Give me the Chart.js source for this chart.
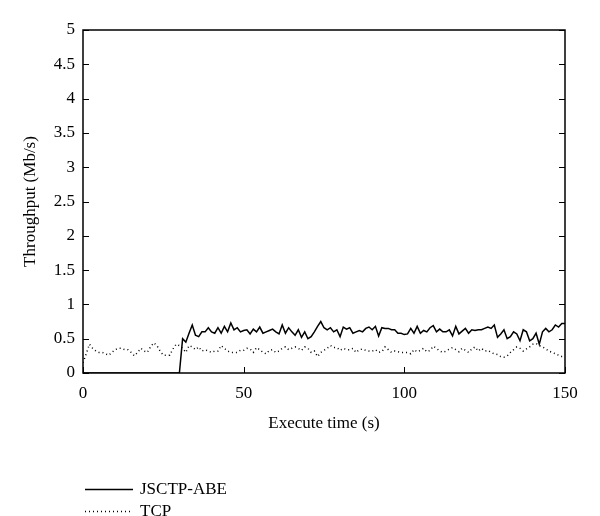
<!DOCTYPE html>
<html>
<head>
<meta charset="utf-8">
<script src="https://cdn.jsdelivr.net/npm/chart.js@4"></script>
<style>
  html, body { margin: 0; padding: 0; background: #fff; }
  #wrap { width: 600px; height: 516px; }
</style>
</head>
<body>
<div id="wrap"><canvas id="chart" width="600" height="516"></canvas></div>
<script>
// Dados (um ponto por segundo, 0..150 s)
const seriesNames = ['JSCTP-ABE', 'TCP'];
const xTicks = [0, 50, 100, 150];
const yTicks = [0, 0.5, 1, 1.5, 2, 2.5, 3, 3.5, 4, 4.5, 5];

const jsctpValues = [
  0, 0, 0, 0, 0, 0, 0, 0, 0, 0,
  0, 0, 0, 0, 0, 0, 0, 0, 0, 0,
  0, 0, 0, 0, 0, 0, 0, 0, 0, 0,
  0, 0.5, 0.45, 0.58, 0.7, 0.55, 0.53, 0.6, 0.6, 0.66,
  0.6, 0.58, 0.66, 0.58, 0.68, 0.6, 0.73, 0.63, 0.66, 0.6,
  0.62, 0.63, 0.57, 0.64, 0.6, 0.67, 0.58, 0.6, 0.62, 0.64,
  0.6, 0.57, 0.7, 0.58, 0.66, 0.6, 0.55, 0.63, 0.52, 0.6,
  0.5, 0.53, 0.6, 0.68, 0.75, 0.66, 0.63, 0.66, 0.6, 0.63,
  0.53, 0.67, 0.64, 0.66, 0.58, 0.6, 0.62, 0.6, 0.65, 0.67,
  0.63, 0.68, 0.54, 0.66, 0.65, 0.65, 0.63, 0.63, 0.58, 0.58,
  0.56, 0.57, 0.65, 0.58, 0.68, 0.58, 0.62, 0.6, 0.66, 0.69,
  0.6, 0.64, 0.6, 0.6, 0.63, 0.54, 0.68, 0.57, 0.61, 0.65,
  0.58, 0.63, 0.62, 0.63, 0.63, 0.65, 0.67, 0.65, 0.7, 0.52,
  0.57, 0.63, 0.5, 0.53, 0.6, 0.57, 0.47, 0.63, 0.6, 0.47,
  0.5, 0.58, 0.42, 0.6, 0.65, 0.6, 0.63, 0.7, 0.67, 0.72,
  0.72
];

const tcpValues = [
  0.15, 0.28, 0.42, 0.36, 0.32, 0.3, 0.3, 0.28, 0.26, 0.3,
  0.34, 0.36, 0.36, 0.34, 0.34, 0.3, 0.25, 0.3, 0.36, 0.32,
  0.3, 0.38, 0.44, 0.4, 0.32, 0.26, 0.26, 0.26, 0.35, 0.42,
  0.4, 0.36, 0.3, 0.4, 0.38, 0.34, 0.38, 0.32, 0.34, 0.32,
  0.3, 0.32, 0.32, 0.4, 0.36, 0.32, 0.3, 0.3, 0.3, 0.33,
  0.33, 0.36, 0.35, 0.3, 0.37, 0.34, 0.3, 0.28, 0.33, 0.34,
  0.3, 0.32, 0.36, 0.38, 0.34, 0.36, 0.38, 0.36, 0.33, 0.38,
  0.36, 0.3, 0.32, 0.24, 0.3, 0.33, 0.36, 0.4, 0.37, 0.37,
  0.33, 0.36, 0.34, 0.34, 0.36, 0.3, 0.34, 0.35, 0.33, 0.32,
  0.32, 0.34, 0.3, 0.31, 0.38, 0.34, 0.3, 0.32, 0.31, 0.3,
  0.3, 0.3, 0.28, 0.34, 0.31, 0.33, 0.36, 0.31, 0.33, 0.39,
  0.36, 0.32, 0.3, 0.32, 0.35, 0.37, 0.34, 0.31, 0.36, 0.33,
  0.3, 0.35, 0.38, 0.32, 0.36, 0.32, 0.33, 0.3, 0.28, 0.27,
  0.24, 0.23, 0.25, 0.3, 0.34, 0.38, 0.36, 0.32, 0.35, 0.38,
  0.42, 0.43, 0.4, 0.38, 0.35, 0.32, 0.3, 0.28, 0.26, 0.24,
  0.24
];

const FONT = '"Liberation Serif", "DejaVu Serif", serif';

function toPoints(values) {
  return values.map((v, i) => ({ x: i, y: v }));
}

// Moldura e marcas de escala para dentro
const framePlugin = {
  id: 'frame',
  afterDraw(chart) {
    const ctx = chart.ctx;
    const a = chart.chartArea;
    const xs = chart.scales.x;
    const ys = chart.scales.y;
    ctx.save();
    ctx.strokeStyle = '#000';
    ctx.lineWidth = 1.5;
    ctx.strokeRect(a.left, a.top, a.right - a.left, a.bottom - a.top);
    ctx.lineWidth = 1;
    ctx.beginPath();
    yTicks.forEach(v => {
      const py = Math.round(ys.getPixelForValue(v)) + 0.5;
      ctx.moveTo(a.left, py);
      ctx.lineTo(a.left + 6, py);
      ctx.moveTo(a.right, py);
      ctx.lineTo(a.right - 6, py);
    });
    xTicks.forEach(v => {
      const px = Math.round(xs.getPixelForValue(v)) + 0.5;
      ctx.moveTo(px, a.bottom);
      ctx.lineTo(px, a.bottom - 6);
    });
    ctx.stroke();

    // Legenda abaixo do gráfico
    const rows = [489, 511];
    chart.data.datasets.forEach((ds, i) => {
      const y = rows[i] + 0.5;
      ctx.beginPath();
      ctx.strokeStyle = '#000';
      ctx.lineWidth = ds.borderWidth;
      ctx.setLineDash(ds.borderDash || []);
      ctx.moveTo(85, y);
      ctx.lineTo(133, y);
      ctx.stroke();
      ctx.setLineDash([]);
      ctx.fillStyle = '#000';
      ctx.font = '17px ' + FONT;
      ctx.textBaseline = 'middle';
      ctx.textAlign = 'left';
      ctx.fillText(ds.label, 140, y);
    });
    ctx.restore();
  }
};

const chart = new Chart(document.getElementById('chart').getContext('2d'), {
  type: 'line',
  data: {
    datasets: [
      {
        label: seriesNames[0],
        data: toPoints(jsctpValues),
        borderColor: '#000',
        borderWidth: 1.5,
        pointRadius: 0,
        tension: 0,
        fill: false
      },
      {
        label: seriesNames[1],
        data: toPoints(tcpValues),
        borderColor: '#000',
        borderWidth: 1.5,
        borderDash: [1, 3],
        pointRadius: 0,
        tension: 0,
        fill: false
      }
    ]
  },
  options: {
    responsive: false,
    animation: false,
    devicePixelRatio: 1,
    layout: { padding: { left: 16, right: 35, top: 30, bottom: 78 } },
    plugins: {
      legend: { display: false },
      tooltip: { enabled: false }
    },
    scales: {
      x: {
        type: 'linear',
        min: 0,
        max: 150,
        afterBuildTicks: s => { s.ticks = xTicks.map(v => ({ value: v })); },
        afterFit: s => { s.height = 65; },
        grid: { display: false, drawTicks: false },
        border: { display: false },
        ticks: { color: '#000', font: { family: FONT, size: 17 }, padding: 10, maxRotation: 0 },
        title: {
          display: true,
          text: 'Execute time (s)',
          color: '#000',
          font: { family: FONT, size: 17 },
          padding: { top: 9, bottom: 4 }
        }
      },
      y: {
        min: 0,
        max: 5,
        afterBuildTicks: s => { s.ticks = yTicks.map(v => ({ value: v })); },
        afterFit: s => { s.width = 67; },
        grid: { display: false, drawTicks: false },
        border: { display: false },
        ticks: {
          color: '#000',
          font: { family: FONT, size: 17 },
          padding: 8,
          callback: v => String(v)
        },
        title: {
          display: true,
          text: 'Throughput (Mb/s)',
          color: '#000',
          font: { family: FONT, size: 17 },
          padding: { bottom: 2 }
        }
      }
    }
  },
  plugins: [framePlugin]
});
</script>
</body>
</html>
